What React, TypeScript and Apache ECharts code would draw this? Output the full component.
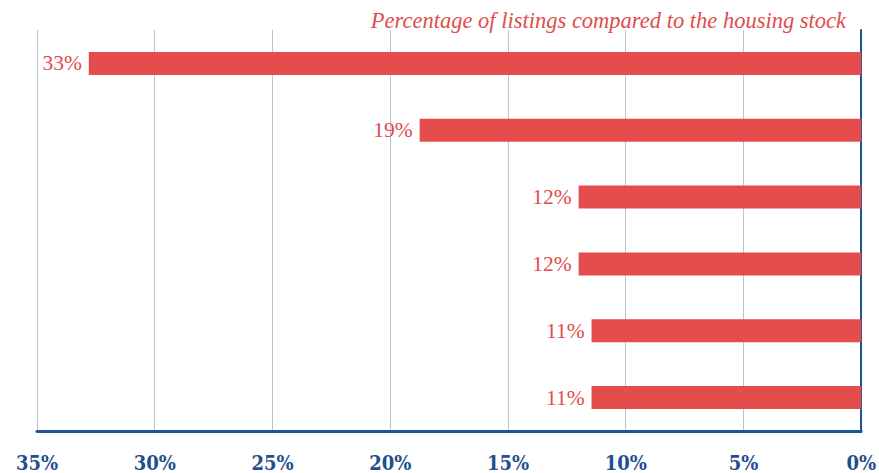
import React, { useEffect, useRef } from "react";
import * as echarts from "echarts";

const categories = ["A", "B", "C", "D", "E", "F"];
const values = [32.8, 18.75, 12.0, 12.0, 11.45, 11.45];
const labels = ["33%", "19%", "12%", "12%", "11%", "11%"];
const titleText = "Percentage of listings compared to the housing stock";

export default function App() {
  const ref = useRef<HTMLDivElement>(null);
  useEffect(() => {
    if (!ref.current) return;
    const chart = echarts.init(ref.current, null, { renderer: "svg" });
    chart.setOption({
      animation: false,
      title: {
        text: titleText,
        right: 28,
        top: 4,
        textStyle: {
          fontFamily: "Liberation Serif",
          fontStyle: "italic",
          fontWeight: "normal",
          fontSize: 22.5,
          color: "#e24b4b",
        },
      },
      grid: { left: 37, right: 15, top: 30, bottom: 41, containLabel: false },
      xAxis: {
        type: "value",
        inverse: true,
        min: 0,
        max: 35,
        interval: 5,
        position: "bottom",
        axisLine: { show: true, lineStyle: { color: "#1f5596", width: 3 } },
        axisTick: { show: false },
        splitLine: { show: true, lineStyle: { color: "#b4c6dc", width: 1 } },
        axisLabel: {
          formatter: "{value}%",
          color: "#1f4f8f",
          fontWeight: "bold",
          fontSize: 20,
          fontFamily: "DejaVu Serif Condensed",
          margin: 22,
        },
      },
      yAxis: {
        type: "category",
        data: categories,
        inverse: true,
        position: "right",
        axisLine: { show: true, lineStyle: { color: "#1f5596", width: 2 } },
        axisTick: { show: false },
        axisLabel: { show: false },
        splitLine: { show: false },
      },
      series: [
        {
          type: "bar",
          data: values,
          barWidth: 23,
          itemStyle: { color: "#e54c4c" },
          label: {
            show: true,
            position: "left",
            distance: 7,
            formatter: (p: any) => labels[p.dataIndex],
            color: "#e24b4b",
            fontFamily: "Liberation Serif",
            fontSize: 21.5,
          },
        },
      ],
    });
    return () => chart.dispose();
  }, []);
  return <div ref={ref} style={{ width: 879, height: 473, position: "absolute", left: 0, top: 0 }} />;
}
